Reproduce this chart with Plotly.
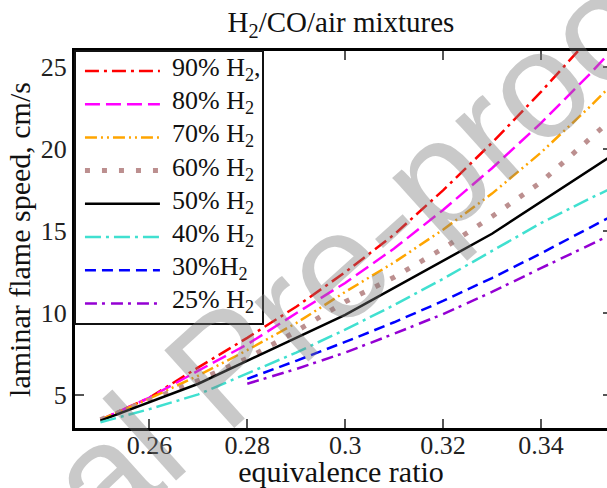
import plotly.graph_objects as go

# Equivalence ratio grid
phi = [0.25, 0.26, 0.27, 0.28, 0.29, 0.30, 0.31, 0.32, 0.33, 0.34, 0.35, 0.36]
phi_50 = [0.25, 0.27, 0.30, 0.33, 0.36]
phi_low = [0.28, 0.29, 0.30, 0.31, 0.32, 0.33, 0.34, 0.35, 0.36]

# Laminar flame speed (cm/s) for each H2 fraction of the fuel
s_90 = [3.5, 4.85, 6.7, 8.5, 10.4, 12.5, 14.8, 17.5, 20.4, 23.5, 26.8, 30.2]
s_80 = [3.5, 4.85, 6.5, 8.1, 10.0, 11.85, 13.95, 16.3, 18.85, 21.6, 24.6, 27.8]
s_70 = [3.5, 4.8, 6.2, 7.75, 9.4, 11.3, 13.1, 15.1, 17.3, 19.8, 22.6, 25.6]
s_60 = [3.5, 4.7, 5.9, 7.25, 8.9, 10.7, 12.2, 13.95, 15.9, 18.0, 20.6, 23.3]
s_50 = [3.45, 5.7, 9.9, 14.85, 20.7]
s_40 = [3.35, 4.15, 5.05, 6.35, 7.6, 9.0, 10.5, 12.1, 13.8, 15.5, 17.0, 18.4]
s_30 = [6.0, 7.1, 8.25, 9.45, 10.75, 12.15, 13.65, 15.2, 16.8]
s_25 = [5.7, 6.6, 7.6, 8.75, 9.95, 11.3, 12.75, 14.2, 15.6]

labels = ["90% H<sub>2</sub>,", "80% H<sub>2</sub>", "70% H<sub>2</sub>", "60% H<sub>2</sub>",
          "50% H<sub>2</sub>", "40% H<sub>2</sub>", "30%H<sub>2</sub>", "25% H<sub>2</sub>"]

series = [
    (phi, s_90, "#ff0000", 2.5, "14px,5px,3px,5px"),
    (phi, s_80, "#ff00ff", 2.5, "15px,6px"),
    (phi, s_70, "#ffa500", 2.5, "12px,4px,2px,4px,2px,4px"),
    (phi, s_60, "#bc8f8f", 5.0, "5px,12px"),
    (phi_50, s_50, "#000000", 2.5, "solid"),
    (phi, s_40, "#40e0d0", 2.5, "16px,5px,3px,5px"),
    (phi_low, s_30, "#0000ff", 2.5, "11px,6px"),
    (phi_low, s_25, "#9400d3", 2.5, "12px,5px,3px,6px"),
]

SERIF = "Liberation Serif"
fig = go.Figure()

for (xs, ys, color, width, dash), name in zip(series, labels):
    fig.add_trace(go.Scatter(x=xs, y=ys, mode="lines", name=name, showlegend=False,
                             line=dict(color=color, width=width, dash=dash),
                             hoverinfo="skip"))

# invisible trace that carries the right-hand tick axis
fig.add_trace(go.Scatter(x=phi_50, y=s_50, yaxis="y2", mode="lines", opacity=0,
                         showlegend=False, hoverinfo="skip"))

# legend drawn as an inset subplot
sample_x = [0.048, 0.45]
for i, ((xs, ys, color, width, dash), name) in enumerate(zip(series, labels)):
    fig.add_trace(go.Scatter(x=sample_x, y=[i, i], xaxis="x3", yaxis="y3", mode="lines",
                             line=dict(color=color, width=width, dash=dash),
                             showlegend=False, hoverinfo="skip"))
    fig.add_annotation(x=0.505, y=i, xref="x3", yref="y3", text=name, showarrow=False,
                       xanchor="left", yanchor="middle", yshift=2,
                       font=dict(family=SERIF, size=26, color="#111"))

axis_common = dict(showgrid=False, zeroline=False, showline=True, linewidth=3,
                   linecolor="#000", ticks="inside", ticklen=9, tickwidth=1.5,
                   tickcolor="#555", tickfont=dict(family=SERIF, size=26, color="#222"))

fig.update_layout(
    width=607, height=488, template="none",
    margin=dict(l=75, r=0, t=51, b=60, pad=0),
    paper_bgcolor="white", plot_bgcolor="white",
    showlegend=False,
    title=dict(text="H<sub>2</sub>/CO/air mixtures", x=0.5, xref="paper",
               xanchor="center", y=0.955, yref="container", yanchor="middle",
               font=dict(family=SERIF, size=29, color="#111")),
    xaxis=dict(range=[0.2448, 0.3535], tick0=0.26, dtick=0.02, mirror="ticks",
               ticklabelstandoff=-8,
               title=dict(text="equivalence ratio", standoff=12,
                          font=dict(family=SERIF, size=30, color="#111")),
               **axis_common),
    yaxis=dict(range=[3, 26], tick0=5, dtick=5, mirror=False,
               title=dict(text="laminar flame speed, cm/s", standoff=2,
                          font=dict(family=SERIF, size=30, color="#111")),
               **axis_common),
    yaxis2=dict(range=[3, 26], tick0=5, dtick=5, overlaying="y", side="right",
                anchor="x", showline=False, showgrid=False, zeroline=False,
                ticks="inside", ticklen=4, tickwidth=1.5, tickcolor="#555",
                showticklabels=False),
    xaxis3=dict(domain=[0.0019, 0.3524], range=[0, 1], anchor="y3",
                showline=True, mirror=True, linewidth=2, linecolor="#111",
                showgrid=False, zeroline=False, ticks="", showticklabels=False),
    yaxis3=dict(domain=[0.2793, 0.9981], range=[7.581, -0.581], anchor="x3",
                showline=True, mirror=True, linewidth=2, linecolor="#111",
                showgrid=False, zeroline=False, ticks="", showticklabels=False),
)

# diagonal watermark
fig.add_annotation(text="Journal Pre-proof", x=(224 - 75) / 532, y=(428 - 366) / 377,
                   xref="paper", yref="paper",
                   showarrow=False, textangle=-42, xanchor="center", yanchor="middle",
                   font=dict(family="Liberation Sans", size=152, color="rgba(120,120,120,0.4)"))

fig.write_html("out.html")
